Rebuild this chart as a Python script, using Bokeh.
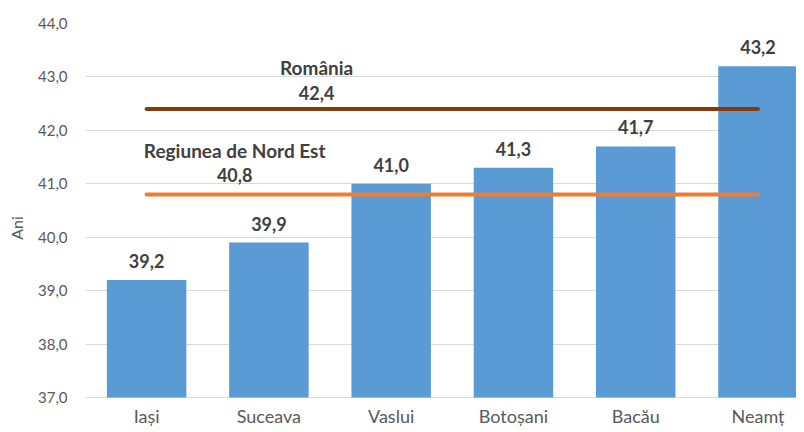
from bokeh.plotting import figure
from bokeh.models import Range1d, FixedTicker, ColumnDataSource, LabelSet, Label, CustomJSTickFormatter
from bokeh.core.properties import value
from bokeh.embed import file_html
from bokeh.resources import INLINE

counties = ["Iași", "Suceava", "Vaslui", "Botoșani", "Bacău", "Neamț"]
ages = [39.2, 39.9, 41.0, 41.3, 41.7, 43.2]
romania_value = 42.4
region_value = 40.8
romania_name = "România"
region_name = "Regiunea de Nord Est"
y_ticks = [37, 38, 39, 40, 41, 42, 43, 44]

FONT = "Lato"
xs = [i + 0.5 for i in range(len(counties))]
fmt = lambda v: f"{v:.1f}".replace(".", ",")

p = figure(width=796, height=432, output_backend="svg", toolbar_location=None,
           x_range=Range1d(0, 5.815), y_range=Range1d(36.345, 44),
           min_border_left=85, min_border_right=0, min_border_top=23, min_border_bottom=0)
p.outline_line_color = None
p.background_fill_color = "white"
p.border_fill_color = "white"
p.xaxis.visible = False

src = ColumnDataSource(dict(x=xs, top=ages, label=[fmt(v) for v in ages],
                            cat=counties, base=[37] * len(xs)))
p.vbar(x="x", top="top", bottom=37, width=0.65, source=src, fill_color="#5B9BD5", line_color=None)

p.line([xs[0], xs[-1]], [romania_value, romania_value], line_color="#843C0C", line_width=4, line_cap="round")
p.line([xs[0], xs[-1]], [region_value, region_value], line_color="#ED7D31", line_width=4, line_cap="round")

p.add_layout(LabelSet(x="x", y="top", text="label", source=src, text_align="center",
                      text_baseline="middle", y_offset=19, text_font=value(FONT),
                      text_font_size="18px", text_font_style="bold", text_color="#404040"))

p.add_layout(LabelSet(x="x", y="base", text="cat", source=src, text_align="center",
                      text_baseline="middle", y_offset=-18, text_font=value(FONT),
                      text_font_size="18px", text_color="#595959"))

for v, name, lx, o1, o2 in [(romania_value, romania_name, 1.89, 16, 41),
                            (region_value, region_name, 1.22, 19, 44)]:
    p.add_layout(Label(x=lx, y=v, text=fmt(v), text_align="center", text_baseline="middle",
                       y_offset=o1, text_font=FONT,
                       text_font_size="18px", text_font_style="bold", text_color="#404040"))
    p.add_layout(Label(x=lx, y=v, text=name, text_align="center", text_baseline="middle",
                       y_offset=o2, text_font=FONT,
                       text_font_size="19px", text_font_style="bold", text_color="#404040"))

p.yaxis.ticker = FixedTicker(ticks=y_ticks)
p.yaxis.formatter = CustomJSTickFormatter(code="return tick.toFixed(1).replace('.', ',');")
p.yaxis.axis_line_color = None
p.yaxis.major_tick_line_color = None
p.yaxis.minor_tick_line_color = None
p.yaxis.major_label_text_font = FONT
p.yaxis.major_label_text_font_size = "15px"
p.yaxis.major_label_text_color = "#595959"
p.yaxis.major_label_standoff = 12
p.yaxis.axis_label = "Ani"
p.yaxis.axis_label_text_font = FONT
p.yaxis.axis_label_text_font_size = "16px"
p.yaxis.axis_label_text_font_style = "normal"
p.yaxis.axis_label_text_color = "#595959"
p.yaxis.axis_label_standoff = 9

p.xgrid.grid_line_color = None
p.ygrid.grid_line_color = "#D9D9D9"
p.ygrid.grid_line_width = 1

open("out.html", "w").write(file_html(p, INLINE))
